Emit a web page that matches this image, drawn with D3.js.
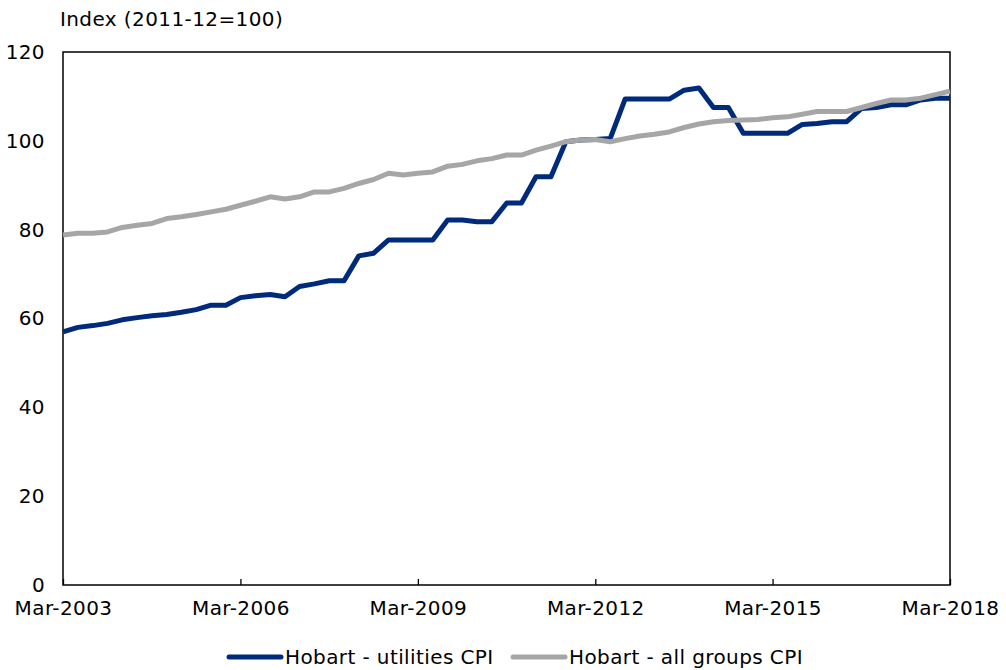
<html>
  <head>
    <script src="https://d3js.org/d3.v7.min.js"></script>
    <style type="text/css">
      body { margin: 0; background: #fff; }
      text { font-family: "DejaVu Sans", Verdana, sans-serif; font-size: 20px; fill: #000; letter-spacing: 0.4px; }
    </style>
  </head>
  <body>
    <svg id="chart" width="1006" height="670"></svg>
  </body>
  <script type="text/javascript">

    // quarterly, Mar-2003 .. Mar-2018
    var firstQuarter = new Date(2003, 2, 1);
    var quarterCount = 61;

    var utilities = [
      57.0, 58.0, 58.4, 58.9, 59.7, 60.2, 60.6, 60.9, 61.4, 62.0,
      63.0, 63.0, 64.7, 65.1, 65.4, 64.9, 67.2, 67.8, 68.5, 68.5,
      74.1, 74.7, 77.7, 77.7, 77.7, 77.7, 82.2, 82.2, 81.8, 81.8,
      86.0, 86.0, 91.9, 91.9, 99.8, 100.2, 100.3, 100.5, 109.4, 109.4,
      109.4, 109.4, 111.4, 111.9, 107.5, 107.5, 101.7, 101.7, 101.7, 101.7,
      103.7, 103.9, 104.3, 104.3, 107.3, 107.5, 108.1, 108.1, 109.2, 109.6,
      109.6
    ];

    var allGroups = [
      78.8, 79.2, 79.2, 79.5, 80.5, 81.0, 81.4, 82.5, 82.9, 83.4,
      84.0, 84.6, 85.5, 86.4, 87.4, 86.9, 87.4, 88.5, 88.5, 89.3,
      90.4, 91.3, 92.7, 92.3, 92.7, 93.0, 94.3, 94.7, 95.5, 96.0,
      96.8, 96.8, 97.9, 98.8, 99.8, 100.2, 100.3, 99.8, 100.5, 101.1,
      101.5, 102.0, 103.0, 103.8, 104.3, 104.6, 104.7, 104.8, 105.2, 105.4,
      106.0, 106.6, 106.6, 106.6, 107.5, 108.4, 109.2, 109.2, 109.6, 110.4,
      111.2
    ];

    var seriesNames = ["Hobart - utilities CPI", "Hobart - all groups CPI"];
    var seriesColors = ["#002b7a", "#a6a6a6"];
    var xTickLabels = ["Mar-2003", "Mar-2006", "Mar-2009", "Mar-2012", "Mar-2015", "Mar-2018"];
    var yTicks = [0, 20, 40, 60, 80, 100, 120];
    var yTitle = "Index (2011-12=100)";

    var margin = {top: 52, right: 56, bottom: 85, left: 63},
        width = 1006 - margin.left - margin.right,
        height = 670 - margin.top - margin.bottom;

    var dates = d3.range(quarterCount).map(function(i) { return d3.timeMonth.offset(firstQuarter, i * 3); });
    var parseTick = d3.timeParse("%b-%Y");

    var svg = d3.select("#chart");
    var g = svg.append("g").attr("transform", "translate(" + margin.left + "," + margin.top + ")");

    var x = d3.scaleTime()
      .domain([dates[0], dates[dates.length - 1]])
      .range([0, width]);

    var y = d3.scaleLinear()
      .domain([0, 120])
      .range([height, 0]);

    // y labels
    g.append("g")
      .call(d3.axisLeft(y).tickValues(yTicks).tickSize(0).tickPadding(18))
      .call(function(a) { a.select(".domain").remove(); })
      .selectAll("text")
      .style("font-size", "20px")
      .style("font-family", "'DejaVu Sans', Verdana, sans-serif");

    // x labels, small ticks pointing up into the plot
    g.append("g")
      .attr("transform", "translate(0," + height + ")")
      .call(d3.axisBottom(x)
        .tickValues(xTickLabels.map(parseTick))
        .tickFormat(d3.timeFormat("%b-%Y"))
        .tickSize(-6)
        .tickPadding(16))
      .call(function(a) {
        a.select(".domain").remove();
        a.selectAll("line").attr("stroke", "#000").attr("stroke-width", 1.3);
      })
      .selectAll("text")
      .style("font-size", "20px")
      .style("font-family", "'DejaVu Sans', Verdana, sans-serif");

    // frame
    g.append("rect")
      .attr("width", width)
      .attr("height", height)
      .attr("fill", "none")
      .attr("stroke", "#000")
      .attr("stroke-width", 1.5);

    g.append("text")
      .attr("x", -3)
      .attr("y", -26)
      .text(yTitle);

    var line = d3.line()
      .x(function(d, i) { return x(dates[i]); })
      .y(function(d) { return y(d); });

    [utilities, allGroups].forEach(function(vals, k) {
      g.append("path")
        .datum(vals)
        .attr("fill", "none")
        .attr("stroke", seriesColors[k])
        .attr("stroke-width", 5)
        .attr("stroke-linejoin", "round")
        .attr("d", line);
    });

    // legend
    var legendX = [229, 513];
    var legend = svg.append("g").attr("transform", "translate(0,657)");
    seriesNames.forEach(function(name, k) {
      legend.append("line")
        .attr("x1", legendX[k]).attr("x2", legendX[k] + 52)
        .attr("stroke", seriesColors[k])
        .attr("stroke-width", 5)
        .attr("stroke-linecap", "round");
      legend.append("text")
        .attr("x", legendX[k] + 56)
        .attr("dy", "0.35em")
        .text(name);
    });

  </script>
</html>
